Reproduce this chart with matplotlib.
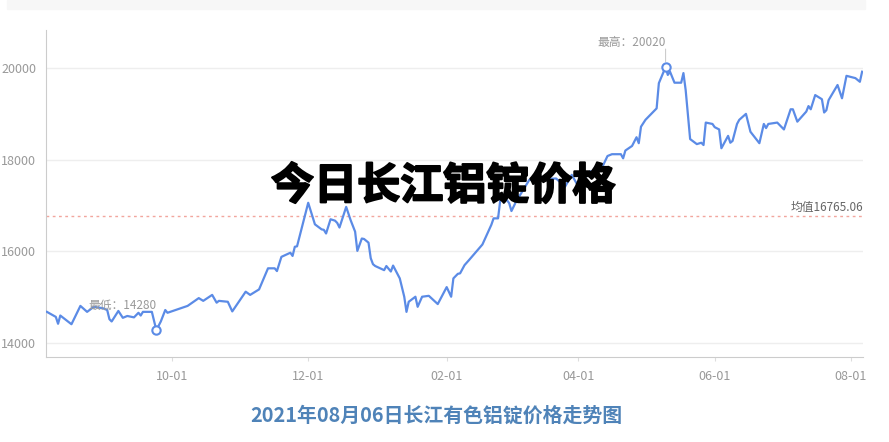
import matplotlib
matplotlib.use('Agg')
import matplotlib.pyplot as plt
import matplotlib.patheffects as pe
from matplotlib.patches import Rectangle
import pandas as pd

plt.rcParams['font.family'] = ['Noto Sans CJK SC', 'DejaVu Sans']

dates = [
    '2020-08-06', '2020-08-10', '2020-08-11', '2020-08-12', '2020-08-17', '2020-08-21',
    '2020-08-24', '2020-08-27', '2020-08-31', '2020-09-02', '2020-09-03', '2020-09-04',
    '2020-09-07', '2020-09-09', '2020-09-11', '2020-09-14', '2020-09-16', '2020-09-17',
    '2020-09-18', '2020-09-22', '2020-09-24', '2020-09-26', '2020-09-28', '2020-09-29',
    '2020-10-08', '2020-10-13', '2020-10-15', '2020-10-19', '2020-10-21', '2020-10-22',
    '2020-10-26', '2020-10-28', '2020-11-03', '2020-11-05', '2020-11-09', '2020-11-13',
    '2020-11-16', '2020-11-17', '2020-11-19', '2020-11-23', '2020-11-24', '2020-11-25',
    '2020-11-26', '2020-12-01', '2020-12-04', '2020-12-07', '2020-12-08', '2020-12-09',
    '2020-12-11', '2020-12-13', '2020-12-14', '2020-12-15', '2020-12-18', '2020-12-20',
    '2020-12-22', '2020-12-23', '2020-12-25', '2020-12-26', '2020-12-28', '2020-12-29',
    '2020-12-30', '2020-12-31', '2021-01-04', '2021-01-05', '2021-01-07', '2021-01-08',
    '2021-01-11', '2021-01-13', '2021-01-14', '2021-01-15', '2021-01-18', '2021-01-19',
    '2021-01-21', '2021-01-24', '2021-01-28', '2021-02-01', '2021-02-03', '2021-02-04',
    '2021-02-06', '2021-02-07', '2021-02-09', '2021-02-11', '2021-02-17', '2021-02-21',
    '2021-02-22', '2021-02-24', '2021-02-25', '2021-02-26', '2021-03-01', '2021-03-02',
    '2021-03-04', '2021-03-09', '2021-03-10', '2021-03-22', '2021-03-26', '2021-03-29',
    '2021-04-01', '2021-04-06', '2021-04-11', '2021-04-14', '2021-04-16', '2021-04-20',
    '2021-04-21', '2021-04-22', '2021-04-25', '2021-04-27', '2021-04-28', '2021-04-29',
    '2021-05-01', '2021-05-06', '2021-05-07', '2021-05-10', '2021-05-11', '2021-05-12',
    '2021-05-14', '2021-05-17', '2021-05-18', '2021-05-19', '2021-05-21', '2021-05-24',
    '2021-05-26', '2021-05-27', '2021-05-28', '2021-05-31', '2021-06-01', '2021-06-03',
    '2021-06-04', '2021-06-07', '2021-06-08', '2021-06-09', '2021-06-11', '2021-06-12',
    '2021-06-15', '2021-06-17', '2021-06-21', '2021-06-23', '2021-06-24', '2021-06-25',
    '2021-06-29', '2021-07-02', '2021-07-05', '2021-07-06', '2021-07-08', '2021-07-12',
    '2021-07-13', '2021-07-14', '2021-07-16', '2021-07-19', '2021-07-20', '2021-07-21',
    '2021-07-22', '2021-07-26', '2021-07-28', '2021-07-30', '2021-08-03', '2021-08-05',
    '2021-08-06',
]
prices = [
    14680, 14570, 14420, 14600, 14410, 14810,
    14680, 14790, 14760, 14720, 14520, 14470,
    14700, 14550, 14590, 14560, 14660, 14600,
    14680, 14680, 14280, 14470, 14720, 14660,
    14810, 14980, 14920, 15050, 14880, 14920,
    14900, 14690, 15120, 15050, 15170, 15630,
    15630, 15570, 15880, 15970, 15900, 16100,
    16110, 17060, 16590, 16480, 16470, 16390,
    16700, 16670, 16620, 16520, 16970, 16680,
    16430, 16010, 16280, 16270, 16190, 15850,
    15720, 15680, 15590, 15680, 15560, 15690,
    15410, 15010, 14680, 14900, 15010, 14790,
    15010, 15030, 14850, 15220, 15010, 15410,
    15510, 15520, 15700, 15810, 16150, 16580,
    16720, 16720, 17120, 17250, 17050, 16880,
    17080, 17480, 17560, 17590, 17410, 17670,
    17410, 17740, 17770, 18080, 18120, 18120,
    18030, 18200, 18300, 18490, 18360, 18720,
    18870, 19120, 19670, 20020, 19850, 19920,
    19680, 19680, 19890, 19520, 18450, 18340,
    18370, 18320, 18810, 18780, 18710, 18660,
    18250, 18520, 18370, 18410, 18780, 18870,
    19000, 18610, 18360, 18780, 18690, 18780,
    18810, 18660, 19100, 19100, 18830, 19050,
    19170, 19100, 19410, 19320, 19030, 19080,
    19300, 19630, 19340, 19830, 19780, 19700,
    19920,
]
mean_value = 16765.06
tick_dates = ['2020-10-01', '2020-12-01', '2021-02-01', '2021-04-01', '2021-06-01', '2021-08-01']
tick_labels = ['10-01', '12-01', '02-01', '04-01', '06-01', '08-01']
y_ticks = [14000, 16000, 18000, 20000]

x = pd.to_datetime(dates)
s = pd.Series(prices, index=x)
i_max = s.idxmax()
i_min = s.idxmin()

fig = plt.figure(figsize=(8.89, 4.42), dpi=100)
fig.patches.append(Rectangle((7 / 889, 1 - 9 / 442), 858 / 889, 9 / 442,
                             transform=fig.transFigure, color='#f7f7f7', zorder=0))
ax = fig.add_axes([46 / 889, 1 - 357 / 442, 817 / 889, 327 / 442])

line_color = '#5b8be6'
ax.plot(x, prices, color=line_color, lw=1.6, zorder=3)
ax.axhline(mean_value, color='#f2a69e', lw=1, ls=(0, (2, 2.5)), zorder=2)

ax.set_ylim(13695, 20830)
ax.set_xlim(x[0] - pd.Timedelta(days=0.4), x[-1] + pd.Timedelta(days=0.4))
ax.set_yticks(y_ticks)
ax.set_yticklabels([str(v) for v in y_ticks])
ax.set_xticks(pd.to_datetime(tick_dates))
ax.set_xticklabels(tick_labels)
ax.grid(axis='y', color='#eeeeee', lw=1, zorder=1)
ax.set_axisbelow(True)

for sp in ['top', 'right']:
    ax.spines[sp].set_visible(False)
ax.spines['left'].set_color('#cccccc')
ax.spines['bottom'].set_color('#cccccc')
ax.tick_params(axis='y', length=0, pad=7, labelsize=9, labelcolor='#999999')
ax.tick_params(axis='x', length=3, color='#dddddd', pad=6, labelsize=9, labelcolor='#999999')

# markers
for idx in [i_max, i_min]:
    ax.plot(idx, s[idx], 'o', ms=6, mfc='white', mec=line_color, mew=1.5, zorder=4)
ax.annotate('', xy=(i_max, s[i_max]), xytext=(0, 13), textcoords='offset points',
            arrowprops=dict(arrowstyle='-', color='#cccccc', lw=0.8, shrinkA=0, shrinkB=4))
ax.annotate('最高：' + str(s[i_max]), xy=(i_max, s[i_max]), xytext=(0, 13),
            textcoords='offset points', ha='right', va='bottom', fontsize=8.5, color='#999999')
ax.annotate('最低：' + str(s[i_min]), xy=(i_min, s[i_min]), xytext=(0, 13),
            textcoords='offset points', ha='right', va='bottom', fontsize=8.5, color='#999999')

ax.text(1.0, mean_value + 60, '均值' + str(mean_value), transform=ax.get_yaxis_transform(),
        ha='right', va='bottom', fontsize=8.5, color='#666666')

fig.text(443 / 889, 1 - 186 / 442, '今日长江铝锭价格', ha='center', va='center',
         fontsize=31, fontweight='bold', color='black',
         path_effects=[pe.withStroke(linewidth=1.5, foreground='black')], zorder=10)
fig.text(436 / 889, 1 - 415 / 442, '2021年08月06日长江有色铝锭价格走势图', ha='center', va='center',
         fontsize=14.3, fontweight='bold', color='#4f83b8')

fig.savefig('out.png', dpi=100)
